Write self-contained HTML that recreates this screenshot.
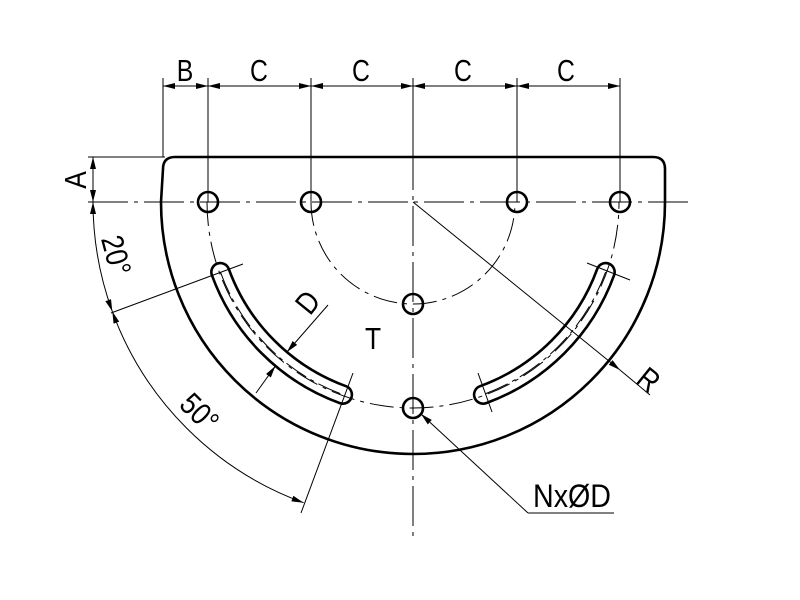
<!DOCTYPE html>
<html><head><meta charset="utf-8"><style>html,body{margin:0;padding:0;background:#fff}svg{display:block}</style></head>
<body>
<svg width="800" height="600" viewBox="0 0 800 600" xmlns="http://www.w3.org/2000/svg">
<defs>
<marker id="ar" viewBox="0 0 12 6" refX="12" refY="3" markerWidth="12" markerHeight="6" markerUnits="userSpaceOnUse" orient="auto">
<path d="M0,0 L12,3 L0,6 Z" fill="#000"/></marker>
<marker id="as" viewBox="0 0 12 6" refX="0" refY="3" markerWidth="12" markerHeight="6" markerUnits="userSpaceOnUse" orient="auto">
<path d="M12,0 L0,3 L12,6 Z" fill="#000"/></marker>
</defs>
<rect width="800" height="600" fill="#fff"/>
<g fill="none" stroke="#000" stroke-width="1">
<line x1="88" y1="202" x2="692" y2="202" stroke-dasharray="40,6,4,6"/>
<line x1="413" y1="150" x2="413" y2="536" stroke-dasharray="40,6,4,6"/>
<path d="M207,202 A206,206 0 0 0 619,202" stroke-dasharray="24,6,4,6"/>
<path d="M311,202 A102,102 0 0 0 515,202" stroke-dasharray="24,6,4,6"/>
<path d="M220.4,272.1 A205,205 0 0 0 342.9,394.6" stroke-dasharray="24,5,4,5"/>
<path d="M605.6,272.1 A205,205 0 0 1 483.1,394.6" stroke-dasharray="24,5,4,5"/>
<line x1="163" y1="78" x2="163" y2="157"/>
<line x1="208" y1="78" x2="208" y2="202"/>
<line x1="311" y1="78" x2="311" y2="202"/>
<line x1="413" y1="78" x2="413" y2="150"/>
<line x1="517" y1="78" x2="517" y2="202"/>
<line x1="620" y1="78" x2="620" y2="202"/>
<line x1="88" y1="157" x2="165" y2="157"/>
<line x1="163" y1="86" x2="208" y2="86" marker-start="url(#as)" marker-end="url(#ar)"/>
<line x1="208" y1="86" x2="311" y2="86" marker-start="url(#as)" marker-end="url(#ar)"/>
<line x1="311" y1="86" x2="413" y2="86" marker-start="url(#as)" marker-end="url(#ar)"/>
<line x1="413" y1="86" x2="517" y2="86" marker-start="url(#as)" marker-end="url(#ar)"/>
<line x1="517" y1="86" x2="620" y2="86" marker-start="url(#as)" marker-end="url(#ar)"/>
<line x1="93" y1="157" x2="93" y2="202" marker-start="url(#as)" marker-end="url(#ar)"/>
<line x1="243" y1="264" x2="111" y2="313"/>
<line x1="353" y1="373" x2="301" y2="513"/>
<path d="M93,202 A320,320 0 0 0 112.3,311.4" marker-start="url(#as)" marker-end="url(#ar)"/>
<path d="M112.3,311.4 A320,320 0 0 0 303.6,502.7" marker-start="url(#as)" marker-end="url(#ar)"/>
<line x1="587" y1="263" x2="630" y2="280"/>
<line x1="478" y1="373" x2="492" y2="412"/>
<line x1="328" y1="305" x2="287" y2="352" marker-end="url(#ar)"/>
<line x1="256" y1="393" x2="275.4" y2="366" marker-end="url(#ar)"/>
<line x1="413" y1="202" x2="620" y2="370" marker-end="url(#ar)"/>
<line x1="620" y1="370" x2="650" y2="395"/>
<line x1="528" y1="513" x2="421" y2="414" marker-end="url(#ar)"/>
<line x1="528" y1="513" x2="614" y2="513"/>
</g>
<g fill="none" stroke="#000" stroke-width="2.6">
<path d="M175,157 L653,157 Q665,157 665,169 L665,202 A252,252 0 0 1 161,202 L163,169 Q163,157 175,157 Z"/>
<circle cx="208" cy="202" r="10"/><circle cx="311" cy="202" r="10"/>
<circle cx="517" cy="202" r="10"/><circle cx="620" cy="202" r="10"/>
<circle cx="413" cy="304" r="10"/><circle cx="413" cy="408" r="10"/>
<path d="M211.9,275.2 A214,214 0 0 0 339.8,403.1 A9,9 0 0 0 346,386.2 A196,196 0 0 1 228.8,269 A9,9 0 0 0 211.9,275.2 Z"/>
<path d="M614.1,275.2 A214,214 0 0 1 486.2,403.1 A9,9 0 0 1 480,386.2 A196,196 0 0 0 597.2,269 A9,9 0 0 1 614.1,275.2 Z"/>
</g>
<g font-family="'Liberation Sans', sans-serif" font-size="31" fill="#000" text-anchor="middle">
<text transform="translate(185,81) scale(0.8,1)">B</text>
<text transform="translate(259,81) scale(0.8,1)">C</text>
<text transform="translate(361,81) scale(0.8,1)">C</text>
<text transform="translate(463,81) scale(0.8,1)">C</text>
<text transform="translate(566,81) scale(0.8,1)">C</text>
<text transform="translate(86,180) rotate(-90) scale(0.85,1)">A</text>
<text transform="translate(106,258) rotate(75) scale(0.85,1)">20°</text>
<text transform="translate(192,420) rotate(45) scale(0.85,1)">50°</text>
<text transform="translate(316,309) rotate(-51) scale(0.85,1)">D</text>
<text transform="translate(642,388) rotate(39) scale(0.85,1)">R</text>
<text transform="translate(373,349) scale(0.85,1)">T</text>
<text x="572" y="507" font-size="32" textLength="78" lengthAdjust="spacingAndGlyphs">NxØD</text>
</g>
</svg>
</body></html>
